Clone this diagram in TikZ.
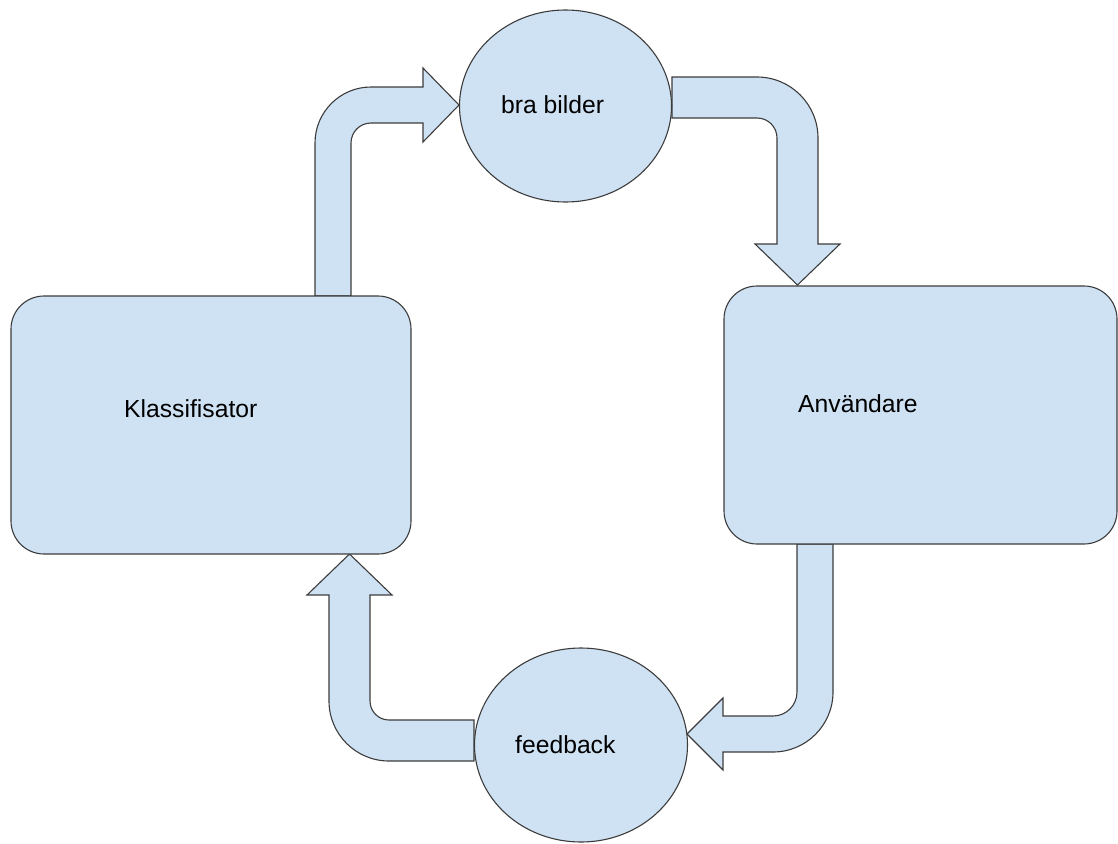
\documentclass[tikz,border=0pt]{standalone}
\usepackage{fontspec}
\setmainfont{Liberation Sans}
\usetikzlibrary{shapes.geometric}
\definecolor{boxfill}{HTML}{CFE2F3}
\definecolor{boxline}{HTML}{3C3C3C}
\begin{document}
\begin{tikzpicture}[x=1pt,y=-1pt,
  shapestyle/.style={fill=boxfill,draw=boxline,line width=1.1pt,line join=miter},
  roundbox/.style={shapestyle,rectangle,rounded corners=33pt,inner sep=0pt},
  ovalbox/.style={shapestyle,ellipse,inner sep=0pt},
  bigarrow/.style={shapestyle},
  lbl/.style={inner sep=0pt,anchor=base west,font=\fontsize{24.7}{30}\selectfont}]
\useasboundingbox (0,0) rectangle (1118,843);

% block arrows
\path[bigarrow] (315,296) -- (315,143) .. controls (315,112.07) and (340.07,87) .. (371,87)
  -- (423,87) -- (423,68) -- (459,105) -- (423,142) -- (423,123) -- (371,123)
  .. controls (359.95,123) and (351,131.95) .. (351,143) -- (351,296) -- cycle;
\path[bigarrow] (672,77) -- (757,77) .. controls (790.69,77) and (818,104.31) .. (818,138)
  -- (818,244) -- (840,244) -- (797.5,285) -- (755,244) -- (777,244) -- (777,138)
  .. controls (777,126.95) and (768.05,118) .. (757,118) -- (672,118) -- cycle;
\path[bigarrow] (797,544) -- (833,544) -- (833,692) .. controls (833,725.14) and (806.14,752) .. (773,752)
  -- (723,752) -- (723,770) -- (687,734) -- (723,698) -- (723,716) -- (773,716)
  .. controls (786.25,716) and (797,705.25) .. (797,692) -- cycle;
\path[bigarrow] (474,720) -- (389,720) .. controls (378.51,720) and (370,711.49) .. (370,701)
  -- (370,595) -- (392,595) -- (349.5,554) -- (307,595) -- (329,595) -- (329,701)
  .. controls (329,734.14) and (355.86,761) .. (389,761) -- (474,761) -- cycle;

% shapes
\node[roundbox,minimum width=400pt,minimum height=258pt] (klass) at (211,425) {};
\node[roundbox,minimum width=393pt,minimum height=258pt] (anv) at (920.5,415) {};
\node[ovalbox,minimum width=212pt,minimum height=192pt] (bra) at (565.5,106) {};
\node[ovalbox,minimum width=213pt,minimum height=194pt] (feed) at (581,745) {};

% labels
\node[lbl] (klasst) at (124,417) {Klassifisator};
\node[lbl] (anvt) at (798,412) {Användare};
\node[lbl] (brat) at (501,113) {bra bilder};
\node[lbl] (feedt) at (515,753) {feedback};
\end{tikzpicture}
\end{document}
